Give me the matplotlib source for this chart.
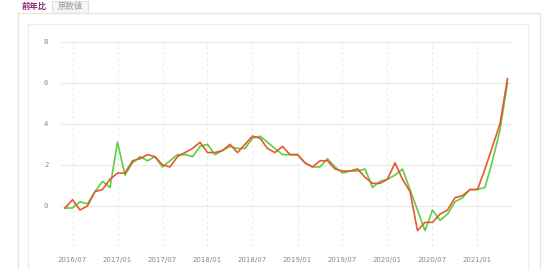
import matplotlib
matplotlib.use("Agg")
import matplotlib.pyplot as plt
from matplotlib.lines import Line2D
from matplotlib.patches import Rectangle

# Monthly data, 2016/06 .. 2021/05
red_values = [-0.1, 0.3, -0.2, 0.0, 0.7, 0.8, 1.3, 1.6, 1.6, 2.2,
              2.3, 2.5, 2.4, 2.0, 1.9, 2.4, 2.6, 2.8, 3.1, 2.6,
              2.6, 2.7, 3.0, 2.6, 3.0, 3.4, 3.3, 2.8, 2.6, 2.9,
              2.5, 2.5, 2.1, 1.9, 2.2, 2.2, 1.8, 1.7, 1.7, 1.8,
              1.4, 1.1, 1.1, 1.3, 2.1, 1.3, 0.7, -1.2, -0.8, -0.8,
              -0.4, -0.2, 0.4, 0.5, 0.8, 0.8, 1.8, 2.9, 4.0, 6.2]
green_values = [-0.1, -0.1, 0.2, 0.1, 0.7, 1.2, 0.9, 3.1, 1.5, 2.1,
                2.4, 2.2, 2.4, 1.9, 2.2, 2.5, 2.5, 2.4, 2.9, 3.0,
                2.5, 2.7, 2.9, 2.8, 2.8, 3.3, 3.4, 3.1, 2.8, 2.5,
                2.5, 2.5, 2.1, 1.9, 1.9, 2.3, 1.9, 1.6, 1.7, 1.7,
                1.8, 0.9, 1.2, 1.3, 1.5, 1.8, 0.8, -0.2, -1.2, -0.2,
                -0.7, -0.4, 0.2, 0.4, 0.8, 0.8, 0.9, 2.2, 3.7, 6.0]
x_tick_labels = ["2016/07", "2017/01", "2017/07", "2018/01", "2018/07",
                 "2019/01", "2019/07", "2020/01", "2020/07", "2021/01"]
y_ticks = [0, 2, 4, 6, 8]
tab_labels = ["前年比", "原数値"]

W, H = 550, 270
fig = plt.figure(figsize=(W / 100, H / 100), dpi=100)
fig.patch.set_facecolor("white")

def fx(px):
    return px / W

def fy(py):
    return 1 - py / H

# card frame lines
border = "#e6e6e6"
fig.add_artist(Line2D([fx(18), fx(18)], [fy(13), fy(270)], color=border, lw=1))
fig.add_artist(Line2D([fx(18), fx(540)], [fy(13), fy(13)], color=border, lw=1))
fig.add_artist(Line2D([fx(540), fx(540)], [fy(13), fy(270)], color=border, lw=1))
fig.add_artist(Line2D([fx(28), fx(528)], [fy(24), fy(24)], color="#eeeeee", lw=1))
fig.add_artist(Line2D([fx(28), fx(28)], [fy(24), fy(270)], color="#eeeeee", lw=1))
fig.add_artist(Line2D([fx(528), fx(528)], [fy(24), fy(270)], color="#eeeeee", lw=1))

# tabs
fig.add_artist(Rectangle((fx(52), fy(13)), fx(36), 12 / H, facecolor="#f6f6f6",
                         edgecolor="#e0e0e0", lw=0.8))
fig.text(fx(34), fy(6.5), tab_labels[0], ha="center", va="center", fontsize=6,
         fontweight="bold", color="#8c2a72", family=["Noto Sans CJK JP", "DejaVu Sans"])
fig.text(fx(70), fy(6.5), tab_labels[1], ha="center", va="center", fontsize=6,
         color="#9a9a9a", family=["Noto Sans CJK JP", "DejaVu Sans"])

# plot area
left, right, top, bottom = 61, 512, 41.7, 247
ax = fig.add_axes([fx(left), fy(bottom), fx(right - left), (bottom - top) / H])
ax.set_facecolor("none")
n = len(red_values)
xs = list(range(n))
ax.set_xlim((left - 65) / 7.5, (right - 65) / 7.5)
ax.set_ylim(-2, 8)

for y in y_ticks:
    ax.axhline(y, color="#ececec", lw=0.9, zorder=0)
ax.axhline(-2, color="#e2e2e2", lw=1.0, zorder=0)
tick_pos = [1 + 6 * i for i in range(len(x_tick_labels))]
for t in tick_pos:
    ax.axvline(t, color="#e8e8e8", lw=0.7, ls=(0, (3, 3)), zorder=0)

ax.plot(xs, green_values, color="#5ccf45", lw=1.2, zorder=3)
ax.plot(xs, red_values, color="#e8582e", lw=1.2, zorder=4)

ax.set_xticks(tick_pos)
ax.set_xticklabels(x_tick_labels)
ax.set_yticks(y_ticks)
ax.set_yticklabels([str(v) for v in y_ticks])
ax.tick_params(axis="both", length=0, labelsize=5, labelcolor="#888888")
ax.tick_params(axis="y", pad=9)
ax.tick_params(axis="x", pad=7)
for s in ax.spines.values():
    s.set_visible(False)

fig.savefig("out.png", dpi=100, facecolor="white")
